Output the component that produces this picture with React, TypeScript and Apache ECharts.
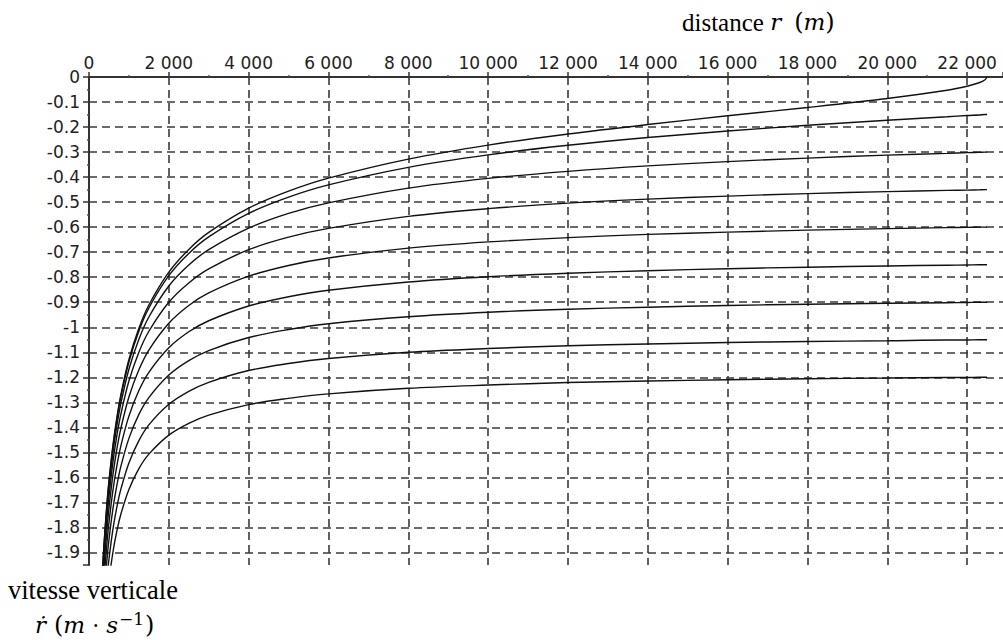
import React, { useEffect, useRef } from "react";
import * as echarts from "echarts";

// distance r (m)
const distances = [
  300, 350, 400, 450, 500, 600, 700, 800, 1000, 1250, 1500, 2000, 2500, 3000,
  4000, 5000, 6000, 8000, 10000, 12000, 14000, 16000, 18000, 20000, 21500,
  22000, 22300, 22450, 22500,
];

// vitesse verticale r' (m/s), one curve per final speed
const curve0 = [-2.095, -1.937, -1.81, -1.704, -1.615, -1.471, -1.359, -1.268, -1.129, -1.004, -0.911, -0.78, -0.689, -0.621, -0.524, -0.456, -0.404, -0.328, -0.272, -0.228, -0.19, -0.155, -0.122, -0.086, -0.053, -0.037, -0.023, -0.011, 0];
const curve1 = [-2.1, -1.943, -1.816, -1.711, -1.622, -1.479, -1.367, -1.277, -1.139, -1.015, -0.923, -0.794, -0.705, -0.639, -0.545, -0.48, -0.431, -0.361, -0.311, -0.273, -0.242, -0.216, -0.193, -0.173, -0.159, -0.154, -0.152, -0.15, -0.15];
const curve2 = [-2.116, -1.96, -1.835, -1.731, -1.643, -1.501, -1.392, -1.303, -1.168, -1.048, -0.959, -0.835, -0.751, -0.69, -0.604, -0.545, -0.503, -0.444, -0.405, -0.377, -0.355, -0.338, -0.324, -0.312, -0.305, -0.302, -0.301, -0.3, -0.3];
const curve3 = [-2.142, -1.989, -1.865, -1.763, -1.677, -1.538, -1.431, -1.346, -1.215, -1.1, -1.016, -0.9, -0.823, -0.767, -0.69, -0.64, -0.605, -0.557, -0.526, -0.504, -0.488, -0.476, -0.466, -0.458, -0.453, -0.452, -0.451, -0.45, -0.45];
const curve4 = [-2.179, -2.028, -1.907, -1.807, -1.723, -1.589, -1.485, -1.403, -1.279, -1.17, -1.091, -0.984, -0.913, -0.863, -0.796, -0.753, -0.723, -0.684, -0.659, -0.642, -0.629, -0.62, -0.612, -0.606, -0.602, -0.601, -0.6, -0.6, -0.6];
const curve5 = [-2.225, -2.077, -1.959, -1.862, -1.781, -1.651, -1.552, -1.473, -1.355, -1.253, -1.18, -1.082, -1.018, -0.974, -0.915, -0.878, -0.852, -0.819, -0.798, -0.784, -0.774, -0.766, -0.76, -0.755, -0.752, -0.751, -0.75, -0.75, -0.75];
const curve6 = [-2.28, -2.136, -2.021, -1.928, -1.849, -1.725, -1.63, -1.555, -1.444, -1.348, -1.281, -1.191, -1.133, -1.093, -1.041, -1.009, -0.986, -0.958, -0.94, -0.928, -0.92, -0.913, -0.908, -0.904, -0.902, -0.901, -0.9, -0.9, -0.9];
const curve7 = [-2.343, -2.203, -2.092, -2.002, -1.927, -1.807, -1.717, -1.646, -1.542, -1.453, -1.39, -1.308, -1.256, -1.22, -1.173, -1.145, -1.125, -1.1, -1.085, -1.074, -1.067, -1.061, -1.057, -1.054, -1.051, -1.051, -1.05, -1.05, -1.05];
const curve8 = [-2.414, -2.279, -2.172, -2.085, -2.012, -1.898, -1.813, -1.746, -1.648, -1.565, -1.507, -1.431, -1.384, -1.351, -1.309, -1.284, -1.266, -1.244, -1.231, -1.221, -1.215, -1.21, -1.206, -1.203, -1.201, -1.201, -1.2, -1.2, -1.2];

const curves = [curve0, curve1, curve2, curve3, curve4, curve5, curve6, curve7, curve8];

const xMin = 0;
const xMax = 22900;
const xStep = 2000;
const yMin = -1.95;
const yMax = 0;

const xTitle = "{n|distance }{i|r}{g| }{p|(}{i|m}{p|)}";
const yTitle1 = "vitesse verticale";
const yTitle2 = "{i|ṙ}{h| }{p|(}{i|m}{d| · }{i|s}{s|−1}{p|)}";

function formatX(v: number): string {
  if (v === 0) return "0";
  if (v % 1000 !== 0 || v % xStep !== 0) return "";
  return `${v / 1000} 000`;
}

function formatY(v: number): string {
  const r = Math.round(v * 10) / 10;
  if (Math.abs(r - v) > 1e-6) return "";
  if (r === 0) return "0";
  return String(r);
}

export default function App() {
  const ref = useRef<HTMLDivElement>(null);

  useEffect(() => {
    if (!ref.current) return;
    const chart = echarts.init(ref.current, null, { renderer: "svg" });
    const serif = "'Liberation Serif', 'Times New Roman', serif";
    const math = "'DejaVu Serif', serif";
    const rich = {
      n: { fontFamily: serif, fontSize: 25, fill: "#000", color: "#000" },
      i: { fontFamily: math, fontSize: 23, fontStyle: "italic", fill: "#000", color: "#000" },
      p: { fontFamily: math, fontSize: 24, fill: "#000", color: "#000" },
      d: { fontFamily: math, fontSize: 22, fill: "#000", color: "#000" },
      g: { fontFamily: math, fontSize: 23, width: 13, fill: "#000", color: "#000" },
      h: { fontFamily: math, fontSize: 23, width: 8, fill: "#000", color: "#000" },
      s: { fontFamily: math, fontSize: 17, fill: "#000", color: "#000", verticalAlign: "top", padding: [0, 1, 12, 1] },
    };
    const gridLine = { color: "#3a3a3a", width: 1.6, type: [8, 5] as any };
    chart.setOption({
      animation: false,
      backgroundColor: "#ffffff",
      grid: { left: 89, top: 77, right: 0, bottom: 75, containLabel: false },
      xAxis: {
        type: "value",
        position: "top",
        min: xMin,
        max: xMax,
        interval: xStep,
        axisLine: { show: true, lineStyle: { color: "#333", width: 2 } },
        axisTick: { show: true, inside: false, length: 5, lineStyle: { color: "#333", width: 1.5 } },
        minorTick: { show: true, splitNumber: 2, length: 2, lineStyle: { color: "#555", width: 1.5 } },
        axisLabel: {
          show: true,
          formatter: formatX,
          margin: 6,
          color: "#222",
          fontFamily: "'DejaVu Sans', sans-serif",
          fontSize: 17,
          showMaxLabel: false,
        },
        splitLine: { show: true, showMinLine: false, showMaxLine: false, lineStyle: gridLine },
      },
      yAxis: {
        type: "value",
        min: yMin,
        max: yMax,
        splitNumber: 20,
        axisLine: { show: true, onZero: false, lineStyle: { color: "#333", width: 2 } },
        axisTick: { show: true, inside: false, length: 6, lineStyle: { color: "#333", width: 1.5 } },
        minorTick: { show: true, splitNumber: 2, length: 2, lineStyle: { color: "#555", width: 1.5 } },
        axisLabel: {
          show: true,
          formatter: formatY,
          margin: 9,
          color: "#222",
          fontFamily: "'DejaVu Sans', sans-serif",
          fontSize: 17,
          showMinLabel: false,
        },
        splitLine: { show: true, showMinLine: false, showMaxLine: false, lineStyle: gridLine },
      },
      graphic: [
        {
          type: "text",
          x: 682,
          y: 22,
          silent: true,
          style: { text: xTitle, rich, align: "left", verticalAlign: "middle", textVerticalAlign: "middle" },
        },
        {
          type: "text",
          x: 8,
          y: 590,
          silent: true,
          style: {
            text: yTitle1,
            font: `26.5px ${serif}`,
            fill: "#000",
            align: "left",
            verticalAlign: "middle",
            textVerticalAlign: "middle",
          },
        },
        {
          type: "text",
          x: 35,
          y: 625,
          silent: true,
          style: { text: yTitle2, rich, align: "left", verticalAlign: "middle", textVerticalAlign: "middle" },
        },
      ],
      series: curves.map((vals, k) => ({
        type: "line",
        name: `courbe ${k}`,
        data: distances.map((d, j) => [d, vals[j]]),
        showSymbol: false,
        smooth: 0.35,
        clip: true,
        silent: true,
        lineStyle: { color: "#111", width: 1.4 },
        emphasis: { disabled: true },
        z: 3,
      })),
    });
    return () => chart.dispose();
  }, []);

  return (
    <div
      ref={ref}
      style={{ position: "absolute", left: 0, top: 0, width: 1003, height: 640, background: "#fff" }}
    />
  );
}
